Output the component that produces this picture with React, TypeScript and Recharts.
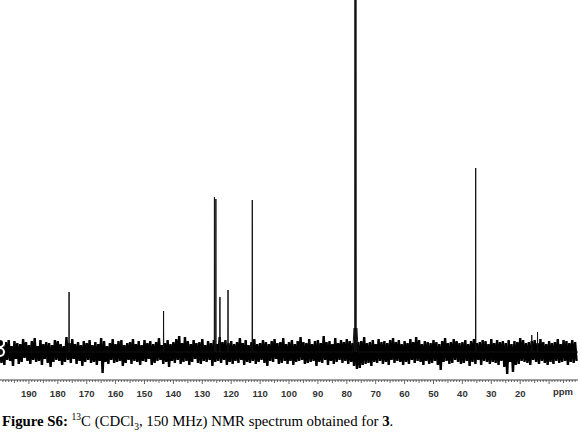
import React from 'react'
import { LineChart, Line, XAxis, YAxis } from 'recharts'

// noise samples, one every 0.5 ppm from 200 ppm down to 0.5 ppm
const noise = [
  9, -11, 7, -13, 10, -8, 12, -9, 6, -14, 11, -7, 9, -12, 8, -10, 13, -6, 10, -9,
  7, -12, 11, -8, 14, -10, 6, -9, 12, -13, 8, -7, 10, -11, 9, -15, 7, -10, 12, -8,
  11, -9, 8, -13, 6, -10, 15, -8, 9, -11, 13, -7, 8, -12, 10, -9, 7, -14, 11, -10,
  9, -8, 12, -11, 7, -10, 10, -13, 8, -9, 14, -21, 11, -10, 6, -12, 9, -8, 13, -11,
  8, -10, 11, -9, 12, -14, 7, -11, 9, -8, 10, -12, 13, -9, 8, -10, 11, -13, 7, -9,
  12, -10, 9, -7, 11, -13, 8, -11, 10, -9, 14, -8, 7, -12, 9, -10, 12, -15, 8, -9,
  10, -11, 13, -8, 16, -12, 9, -10, 15, -9, 11, -13, 8, -10, 12, -7, 9, -11, 10, -12,
  13, -9, 7, -10, 11, -8, 9, -14, 12, -10, 8, -9, 15, -11, 10, -8, 12, -13, 9, -10,
  11, -12, 8, -9, 10, -11, 14, -8, 9, -13, 12, -10, 7, -11, 10, -9, 13, -12, 8, -10,
  9, -8, 12, -11, 10, -14, 8, -9, 11, -10, 13, -7, 9, -12, 10, -11, 14, -9, 8, -12,
  10, -9, 12, -13, 8, -10, 11, -9, 15, -8, 10, -12, 9, -11, 13, -10, 8, -9, 11, -14,
  12, -10, 9, -11, 16, -8, 10, -13, 11, -9, 8, -12, 14, -10, 9, -8, 12, -11, 10, -9,
  13, -12, 11, -10, 9, -14, 12, -17, 10, -16, 11, -13, 15, -12, 9, -11, 10, -14, 12, -10,
  8, -11, 13, -9, 10, -12, 11, -10, 9, -13, 12, -8, 14, -11, 10, -9, 12, -10, 8, -13,
  11, -10, 9, -12, 13, -8, 10, -11, 15, -9, 12, -10, 8, -13, 11, -9, 10, -12, 9, -11,
  12, -9, 10, -13, 8, -18, 11, -10, 14, -9, 9, -12, 10, -11, 13, -8, 11, -10, 9, -12,
  10, -11, 12, -9, 8, -14, 11, -10, 13, -12, 9, -8, 10, -13, 12, -9, 11, -10, 8, -12,
  13, -10, 9, -11, 12, -13, 10, -9, 11, -15, 9, -22, 12, -10, 8, -20, 11, -13, 10, -12,
  14, -9, 12, -10, 9, -11, 10, -13, 11, -8, 12, -10, 9, -12, 13, -9, 10, -11, 8, -13,
  11, -10, 9, -12, 10, -9, 13, -11, 8, -10, 12, -9, 11, -13, 9, -10, 12, -11, 10, -9,
]

// peak positions (ppm) and heights
const peakPpm = [176.1, 143.4, 125.8, 125.3, 123.9, 121.1, 112.7, 77.16, 77.0, 76.84, 35.4, 16.0, 14.0]
const peakHeight = [60, 41, 155, 153, 55, 62, 152, 420, 440, 420, 184, 17, 20]

// foot of the CDCl3 triplet
const footPpm = [78.0, 77.45, 76.55, 76.0]
const footHeight = [0, 24, 24, 0]

const majorTicks = [190, 180, 170, 160, 150, 140, 130, 120, 110, 100, 90, 80, 70, 60, 50, 40, 30, 20]
const minorTicks = Array.from({ length: 199 }, (_, i) => 199 - i)

const noiseData = noise.map((v, i) => ({ ppm: 200 - i * 0.5, v }))

const buildPeaks = () => {
  const pts: { ppm: number; v: number }[] = [
    { ppm: 200, v: 0 },
    { ppm: 0, v: 0 },
  ]
  peakPpm.forEach((p, i) => {
    pts.push({ ppm: p + 0.06, v: 0 })
    pts.push({ ppm: p, v: peakHeight[i] })
    pts.push({ ppm: p - 0.06, v: 0 })
  })
  footPpm.forEach((p, i) => pts.push({ ppm: p, v: footHeight[i] }))
  return pts.sort((a, b) => b.ppm - a.ppm)
}

const peakData = buildPeaks()

const AxisTick = (props: any) => {
  const { x, y, payload } = props
  const val = payload.value
  const len = val % 10 === 0 ? 4 : val % 5 === 0 ? 3 : 2
  return (
    <g>
      <line x1={x} x2={x} y1={y} y2={y + len} stroke="#444" strokeWidth={0.8} />
      {majorTicks.includes(val) && (
        <text
          x={x}
          y={y + 17}
          textAnchor="middle"
          fontFamily="'Liberation Sans', Arial, sans-serif"
          fontSize={9.5}
          fontWeight="bold"
          fill="#333"
        >
          {val}
        </text>
      )}
    </g>
  )
}

const App = () => {
  return (
    <div style={{ position: 'absolute', left: 0, top: 0, width: 580, height: 436, background: '#fff' }}>
      <LineChart width={580} height={408} margin={{ top: 0, right: 2, left: 0, bottom: 0 }}>
        <XAxis
          dataKey="ppm"
          type="number"
          domain={[0, 200]}
          reversed
          allowDataOverflow
          ticks={minorTicks}
          interval={0}
          tickSize={0}
          tickMargin={0}
          tickLine={false}
          tick={<AxisTick />}
          height={28}
          stroke="#444"
        />
        <YAxis hide type="number" domain={[-28, 352]} allowDataOverflow />
        <Line
          data={noiseData}
          dataKey="v"
          type="linear"
          stroke="#000"
          strokeWidth={2.4}
          strokeLinejoin="bevel"
          dot={false}
          isAnimationActive={false}
        />
        <Line
          data={peakData}
          dataKey="v"
          type="linear"
          stroke="#111"
          strokeWidth={1}
          dot={false}
          isAnimationActive={false}
        />
      </LineChart>
      <div
        style={{
          position: 'absolute',
          left: 553,
          top: 386,
          fontFamily: "'Liberation Sans', Arial, sans-serif",
          fontSize: 9.5,
          fontWeight: 'bold',
          color: '#333',
        }}
      >
        ppm
      </div>
      <div
        style={{
          position: 'absolute',
          left: 2,
          top: 409,
          fontFamily: "'Liberation Serif', 'Times New Roman', serif",
          fontSize: 14.8,
          lineHeight: '17px',
          color: '#000',
          whiteSpace: 'nowrap',
        }}
      >
        <b>Figure S6:</b> <sup style={{ fontSize: 9.5 }}>13</sup>C (CDCl<sub style={{ fontSize: 9.5 }}>3</sub>, 150 MHz) NMR spectrum obtained for <b>3</b>.
      </div>
    </div>
  )
}

export default App
